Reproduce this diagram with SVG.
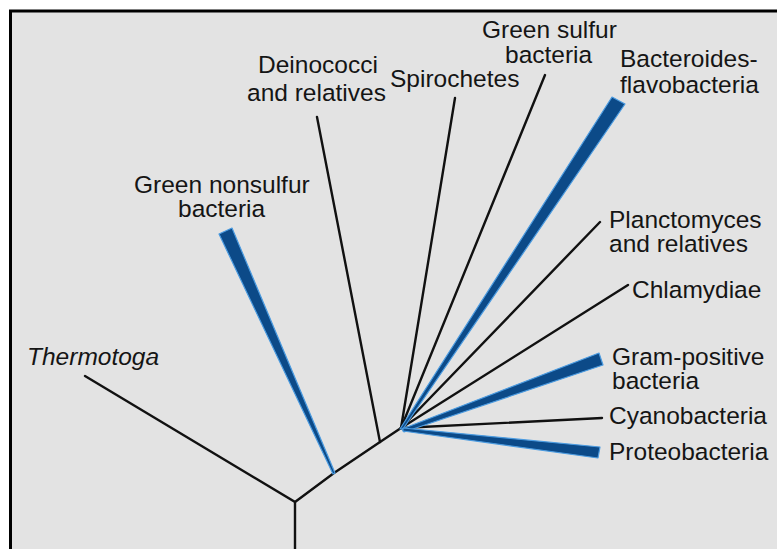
<svg xmlns="http://www.w3.org/2000/svg" width="777" height="549" viewBox="0 0 777 549">
<style>
text{font-family:"Liberation Sans",Arial,sans-serif;font-size:24.5px;fill:#151515}
.it{font-style:italic}
.br{stroke:#111;stroke-width:2.4;fill:none;stroke-linecap:round}
.wd{fill:#0c4a88;stroke:#4b9be0;stroke-width:1.2;stroke-linejoin:round}
</style>
<rect x="0" y="0" width="777" height="549" fill="#ffffff"/>
<rect x="11" y="12" width="766" height="537" fill="#e3e3e3"/>
<path d="M10.5 549 V11 H777" fill="none" stroke="#000" stroke-width="3"/>
<g id="connectors">
<path class="br" d="M295 549 V502 L85 376"/>
<path class="br" d="M295 502 L334 473 L380 442 L401 428"/>
<path class="br" d="M380 442 L317 117"/>
<path class="br" d="M401 428 L455 98"/>
<path class="br" d="M401 428 L545 75"/>
<path class="br" d="M401 428 L600 222"/>
<path class="br" d="M401 428 L628 285"/>
<path class="br" d="M401 428 L602 418"/>
<polygon class="wd" points="333,474 335,473 232,228 219,234"/>
<polygon class="wd" points="400,429 403,429 625,104 612,97"/>
<polygon class="wd" points="402,429 404,432 603,365 599,353"/>
<polygon class="wd" points="403,428 403,431 598,458 600,447"/>
</g>
<g id="thermotoga"><text class="it" x="27" y="365">Thermotoga</text></g>
<g id="green-nonsulfur"><text x="134" y="193">Green nonsulfur<tspan x="178" dy="24">bacteria</tspan></text></g>
<g id="deinococci"><text x="258" y="73">Deinococci<tspan x="247" dy="28">and relatives</tspan></text></g>
<g id="spirochetes"><text x="390" y="87">Spirochetes</text></g>
<g id="green-sulfur"><text x="482" y="38">Green sulfur<tspan x="505" dy="25">bacteria</tspan></text></g>
<g id="bacteroides"><text x="620" y="67">Bacteroides-<tspan x="620" dy="26">flavobacteria</tspan></text></g>
<g id="planctomyces"><text x="609" y="228">Planctomyces<tspan x="609" dy="24">and relatives</tspan></text></g>
<g id="chlamydiae"><text x="632" y="298">Chlamydiae</text></g>
<g id="gram-positive"><text x="612" y="365">Gram-positive<tspan x="612" dy="24">bacteria</tspan></text></g>
<g id="cyanobacteria"><text x="609" y="424">Cyanobacteria</text></g>
<g id="proteobacteria"><text x="609" y="460">Proteobacteria</text></g>
</svg>
